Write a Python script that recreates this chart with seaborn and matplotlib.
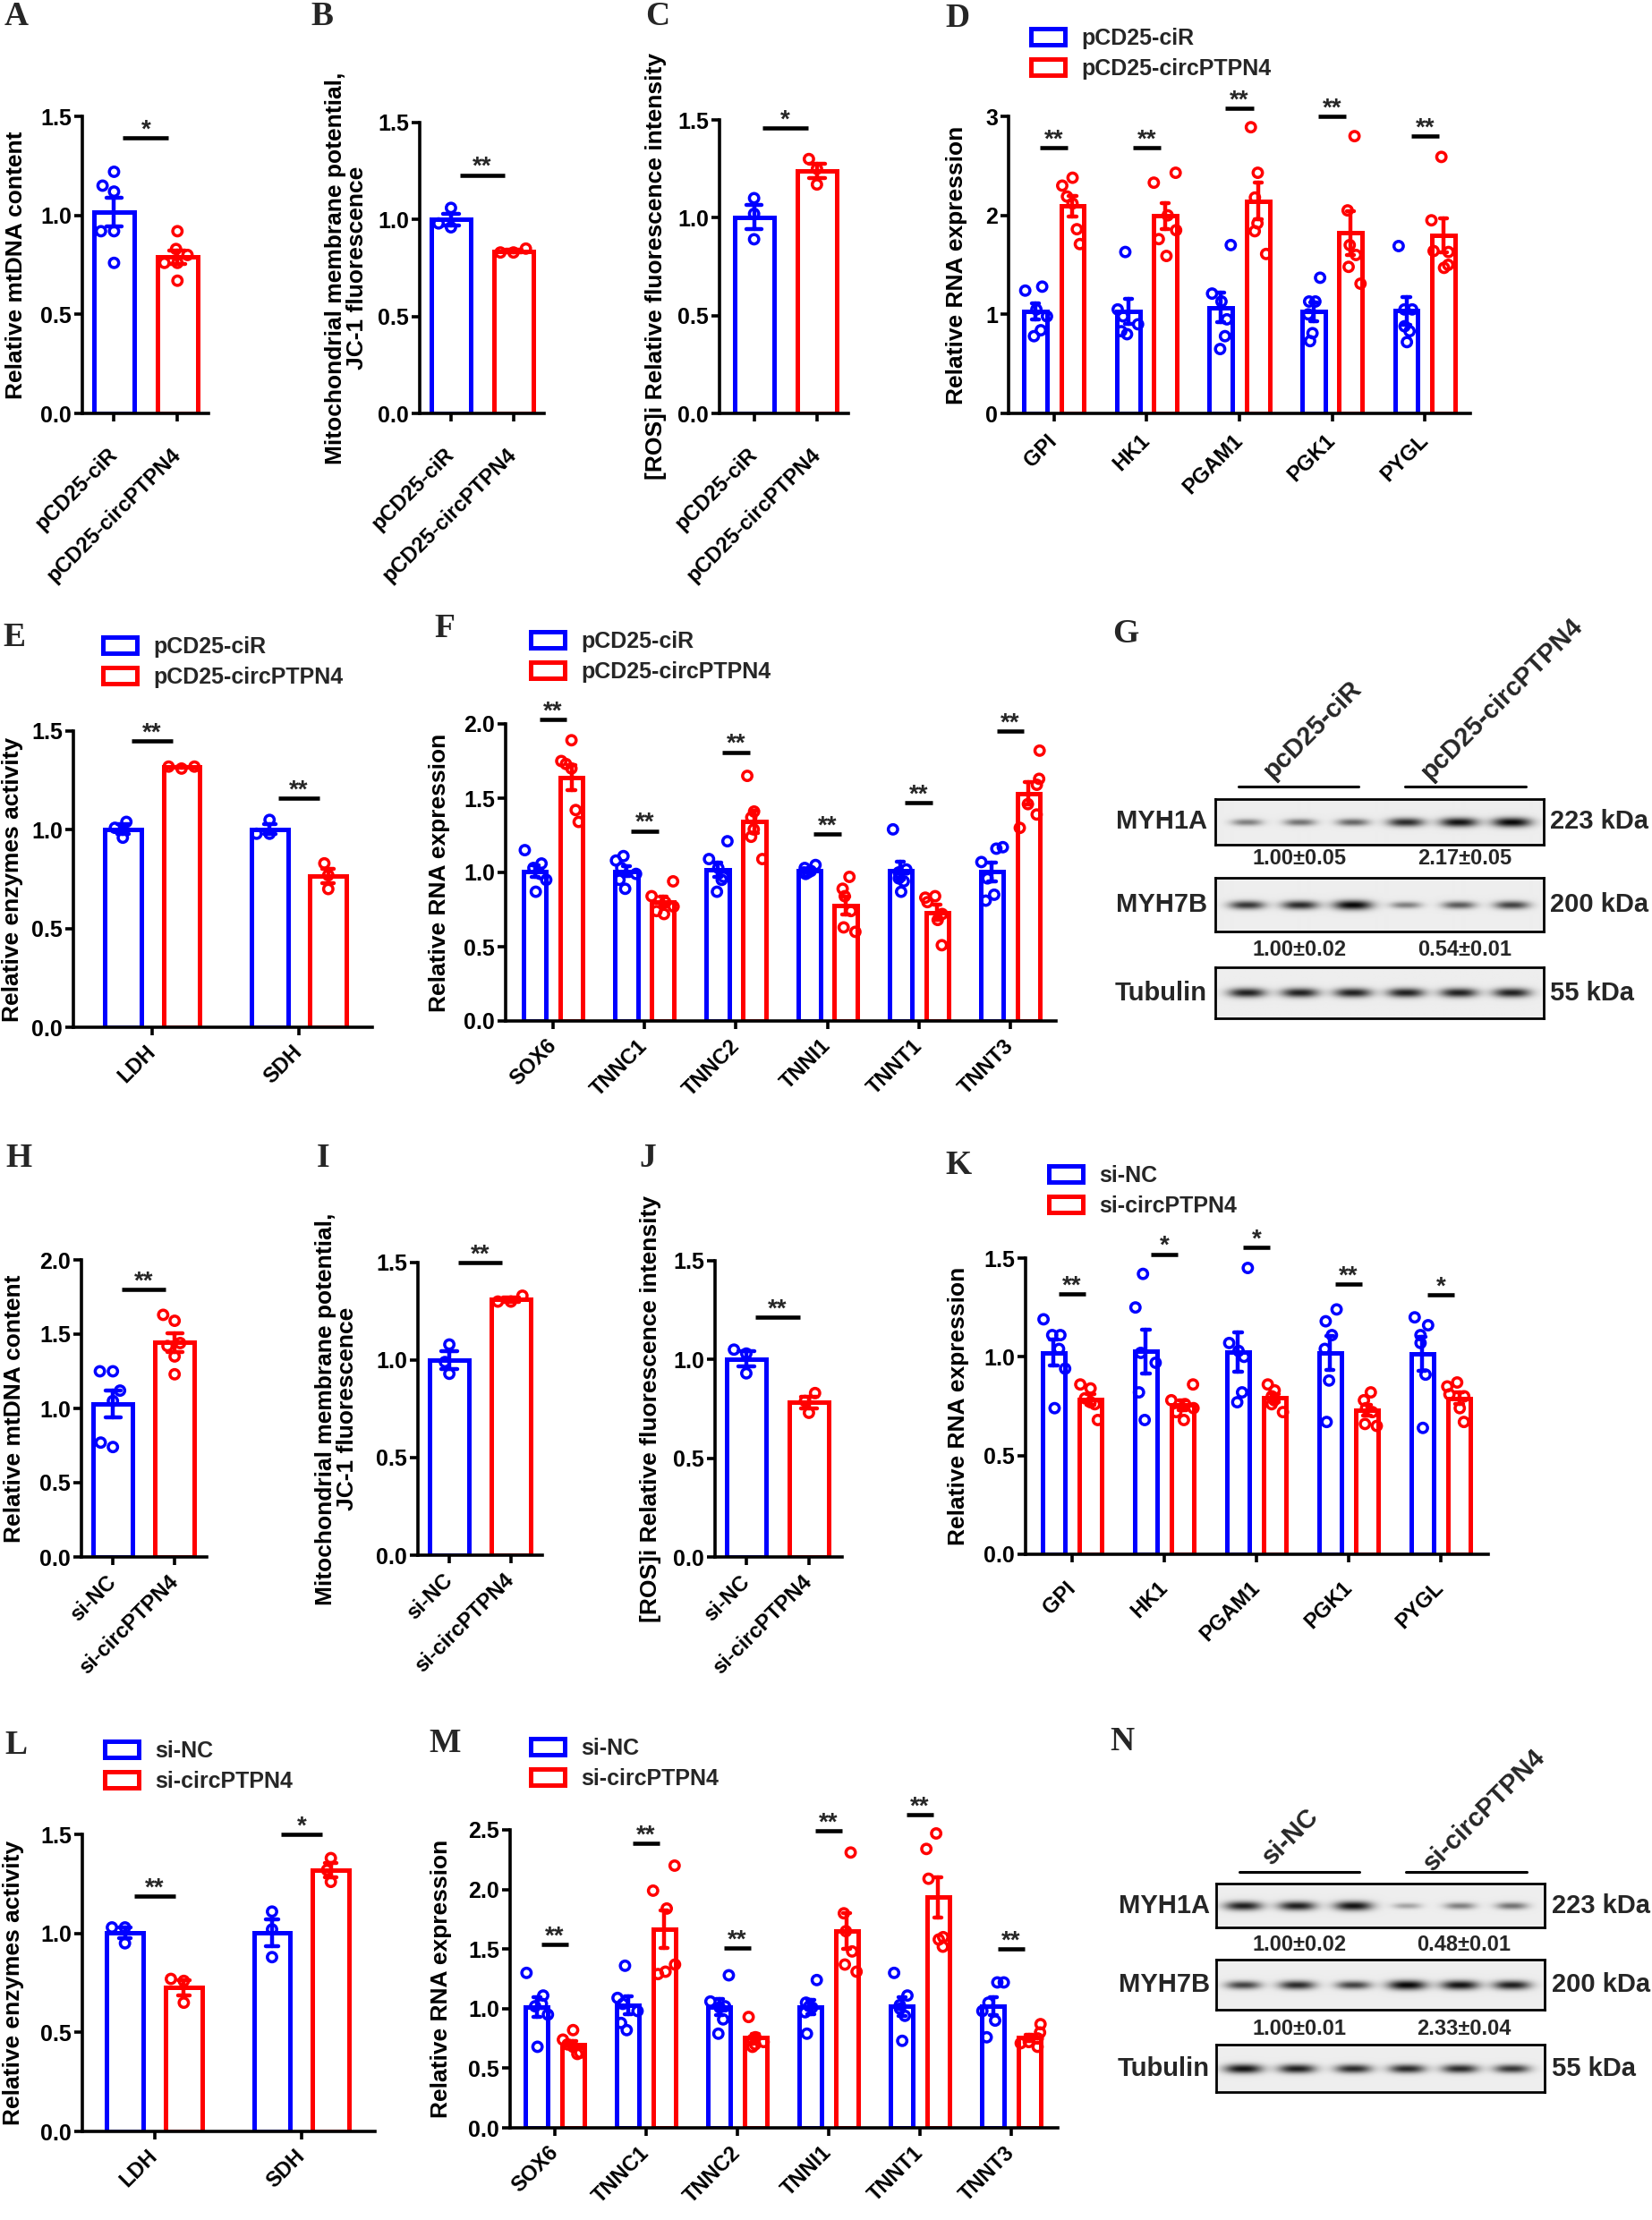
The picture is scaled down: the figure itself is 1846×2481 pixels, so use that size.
import numpy as np
import pandas as pd
import matplotlib
matplotlib.use("Agg")
import matplotlib.pyplot as plt
import seaborn as sns
from matplotlib.patches import Patch
from matplotlib.ticker import FormatStrFormatter
import warnings
warnings.filterwarnings("ignore")

# ---------------- data ----------------
grp_oe = ["pCD25-ciR", "pCD25-circPTPN4"]
grp_si = ["si-NC", "si-circPTPN4"]
glyco_genes = ["GPI", "HK1", "PGAM1", "PGK1", "PYGL"]
enzymes = ["LDH", "SDH"]
fiber_genes = ["SOX6", "TNNC1", "TNNC2", "TNNI1", "TNNT1", "TNNT3"]

A_ctrl = [1.22, 1.15, 1.12, 0.92, 0.92, 0.76]
A_trt = [0.92, 0.83, 0.80, 0.76, 0.76, 0.67]
B_ctrl = [1.06, 0.98, 0.96]
B_trt = [0.85, 0.83, 0.83]
C_ctrl = [1.10, 1.02, 0.89]
C_trt = [1.30, 1.25, 1.17]

D_ctrl = [[1.24, 1.28, 0.78, 0.84, 0.98, 1.05],
          [1.63, 1.05, 0.98, 0.90, 0.83, 0.80],
          [1.70, 1.21, 1.13, 0.95, 0.78, 0.65],
          [1.37, 1.13, 1.13, 1.00, 0.81, 0.73],
          [1.69, 1.05, 1.05, 0.88, 0.83, 0.72]]
D_trt = [[2.38, 2.30, 2.19, 2.12, 1.86, 1.71],
         [2.43, 2.33, 2.00, 1.85, 1.76, 1.59],
         [2.89, 2.43, 2.18, 1.92, 1.84, 1.61],
         [2.80, 2.05, 1.70, 1.60, 1.48, 1.31],
         [2.59, 1.95, 1.64, 1.63, 1.47, 1.50]]

E_ctrl = [[1.04, 0.96, 1.01], [1.05, 0.98, 0.98]]
E_trt = [[1.32, 1.31, 1.32], [0.83, 0.77, 0.70]]

F_ctrl = [[1.15, 1.06, 1.03, 0.99, 0.95, 0.87],
          [1.11, 1.08, 1.03, 0.99, 0.95, 0.89],
          [1.21, 1.09, 1.03, 0.97, 0.95, 0.87],
          [1.05, 1.03, 1.01, 1.00, 1.00, 0.99],
          [1.29, 1.02, 1.00, 0.96, 0.94, 0.87],
          [1.17, 1.16, 1.07, 0.96, 0.85, 0.81]]
F_trt = [[1.89, 1.75, 1.73, 1.70, 1.42, 1.34],
         [0.94, 0.84, 0.80, 0.77, 0.74, 0.72],
         [1.65, 1.41, 1.37, 1.29, 1.24, 1.09],
         [0.97, 0.89, 0.84, 0.74, 0.63, 0.60],
         [0.84, 0.83, 0.80, 0.72, 0.68, 0.51],
         [1.82, 1.63, 1.59, 1.46, 1.39, 1.30]]

H_ctrl = [1.25, 1.25, 1.12, 1.05, 0.74, 0.77]
H_trt = [1.63, 1.59, 1.44, 1.42, 1.35, 1.23]
I_ctrl = [1.08, 0.99, 0.93]
I_trt = [1.33, 1.30, 1.30]
J_ctrl = [1.05, 1.03, 0.93]
J_trt = [0.83, 0.79, 0.73]

K_ctrl = [[1.19, 1.11, 1.11, 1.04, 0.94, 0.74],
          [1.42, 1.25, 1.02, 0.97, 0.82, 0.68],
          [1.45, 1.07, 1.03, 1.00, 0.82, 0.77],
          [1.24, 1.18, 1.11, 1.04, 0.88, 0.67],
          [1.20, 1.16, 1.11, 1.07, 0.91, 0.64]]
K_trt = [[0.84, 0.86, 0.79, 0.77, 0.76, 0.68],
         [0.86, 0.78, 0.76, 0.74, 0.72, 0.68],
         [0.86, 0.83, 0.80, 0.78, 0.76, 0.72],
         [0.82, 0.78, 0.74, 0.72, 0.66, 0.65],
         [0.87, 0.85, 0.81, 0.80, 0.74, 0.67]]

L_ctrl = [[1.03, 1.03, 0.95], [1.11, 1.02, 0.88]]
L_trt = [[0.77, 0.76, 0.65], [1.38, 1.32, 1.26]]

M_ctrl = [[1.30, 1.11, 1.02, 1.04, 0.95, 0.68],
          [1.36, 1.09, 1.04, 0.98, 0.88, 0.82],
          [1.28, 1.06, 1.01, 1.02, 0.91, 0.79],
          [1.24, 1.05, 1.01, 0.97, 1.02, 0.79],
          [1.30, 1.11, 1.03, 1.00, 0.94, 0.73],
          [1.22, 1.22, 0.98, 1.05, 0.90, 0.76]]
M_trt = [[0.82, 0.74, 0.70, 0.68, 0.62, 0.63],
         [2.20, 1.99, 1.84, 1.37, 1.29, 1.31],
         [0.93, 0.76, 0.74, 0.70, 0.68, 0.72],
         [2.31, 1.80, 1.65, 1.48, 1.37, 1.31],
         [2.47, 2.34, 2.09, 1.60, 1.58, 1.52],
         [0.87, 0.80, 0.75, 0.72, 0.68, 0.71]]

# significance bars (height, label)
A_sig = (1.39, "*")
B_sig = (1.23, "**")
C_sig = (1.46, "*")
D_sig_y = [2.68, 2.68, 3.08, 3.00, 2.80]
D_sig_txt = ["**", "**", "**", "**", "**"]
E_sig_y = [1.45, 1.16]
E_sig_txt = ["**", "**"]
F_sig_y = [2.03, 1.28, 1.81, 1.26, 1.47, 1.95]
F_sig_txt = ["**", "**", "**", "**", "**", "**"]
H_sig = (1.80, "**")
I_sig = (1.50, "**")
J_sig = (1.215, "**")
K_sig_y = [1.32, 1.52, 1.555, 1.37, 1.316]
K_sig_txt = ["**", "*", "*", "**", "*"]
L_sig_y = [1.19, 1.50]
L_sig_txt = ["**", "*"]
M_sig_y = [1.54, 2.39, 1.51, 2.49, 2.63, 1.50]
M_sig_txt = ["**", "**", "**", "**", "**", "**"]

# western blots
blot_rows = ["MYH1A", "MYH7B", "Tubulin"]
blot_kda = ["223 kDa", "200 kDa", "55 kDa"]
G_groups = ["pcD25-ciR", "pcD25-circPTPN4"]
N_groups = ["si-NC", "si-circPTPN4"]
G_quant = [["1.00\u00b10.05", "2.17\u00b10.05"], ["1.00\u00b10.02", "0.54\u00b10.01"]]
N_quant = [["1.00\u00b10.02", "0.48\u00b10.01"], ["1.00\u00b10.01", "2.33\u00b10.04"]]
G_band = [[0.45, 0.50, 0.55, 0.80, 0.90, 0.95],
          [0.75, 0.80, 0.95, 0.45, 0.60, 0.70],
          [0.85, 0.85, 0.85, 0.85, 0.85, 0.85]]
N_band = [[0.85, 0.85, 0.90, 0.30, 0.45, 0.50],
          [0.70, 0.80, 0.70, 0.95, 0.90, 0.85],
          [0.90, 0.85, 0.80, 0.80, 0.80, 0.75]]
G_lanes = [35, 94, 153, 212, 271, 330]
N_lanes = [30, 90, 153, 213, 272, 330]

# ---------------- style ----------------
sns.set_style("ticks")
plt.rcParams["font.family"] = ["Liberation Sans", "DejaVu Sans"]
plt.rcParams["font.weight"] = "bold"
plt.rcParams["axes.labelweight"] = "bold"

BLUE, RED = "#0000FF", "#FF0000"
MS, MLW = 7.5, 2.5
W, H, DPI = 1846, 2481, 100
fig = plt.figure(figsize=(W / DPI, H / DPI), dpi=DPI)
fig.patch.set_facecolor("white")

ov = fig.add_axes([0, 0, 1, 1], zorder=-5)
ov.set_xlim(0, W)
ov.set_ylim(H, 0)
ov.axis("off")


def make_ax(xl, xr, y0, yt, top, ymax):
    ppu = (y0 - yt) / top
    ytop_px = y0 - ppu * ymax
    return fig.add_axes([xl / W, 1 - y0 / H, (xr - xl) / W, (y0 - ytop_px) / H])


def hollow(ax):
    for c in ax.collections:
        fc = c.get_facecolors()
        if len(fc):
            c.set_edgecolors(fc.copy())
            c.set_facecolors("none")


def finish(ax, top, step, fmt, xlim, ymax, ylabel, lab_x, y0, yt, xpad=11):
    ax.set_xlim(*xlim)
    ax.set_ylim(0, ymax)
    ax.set_yticks(np.arange(0, top + 1e-9, step))
    ax.yaxis.set_major_formatter(FormatStrFormatter(fmt))
    ax.spines["top"].set_visible(False)
    ax.spines["right"].set_visible(False)
    ax.spines["left"].set_bounds(0, top)
    for s in ["left", "bottom"]:
        ax.spines[s].set_linewidth(2.6)
        ax.spines[s].set_color("black")
    ax.tick_params(axis="both", length=6.5, width=2.6, color="black",
                   labelsize=18, direction="out", labelcolor="black")
    ax.tick_params(axis="y", pad=2)
    ax.tick_params(axis="x", pad=xpad, labelsize=17)
    for lab in ax.get_xticklabels():
        lab.set_rotation(45)
        lab.set_ha("right")
        lab.set_va("center")
        lab.set_rotation_mode("anchor")
    ax.set_xlabel("")
    ax.set_ylabel(ylabel, fontsize=19, fontweight="bold", linespacing=0.95, color="black")
    ax.yaxis.label.set_va("center")
    ax.yaxis.set_label_coords(lab_x / W, 1 - (y0 + yt) / 2 / H, transform=fig.transFigure)
    ax.patch.set_alpha(0)


def sig(ax, x0, x1, y, txt):
    ax.plot([x0, x1], [y, y], color="black", lw=3.3, solid_capstyle="butt",
            clip_on=False, zorder=5)
    ax.text((x0 + x1) / 2, y + 0.004 * ax.get_ylim()[1], txt, ha="center",
            va="baseline", fontsize=20, fontweight="bold", clip_on=False)


def single(ax, groups, ctrl, trt):
    df = pd.DataFrame({"grp": [groups[0]] * len(ctrl) + [groups[1]] * len(trt),
                       "val": list(ctrl) + list(trt)})
    sns.barplot(data=df, x="grp", y="val", hue="grp", order=groups, hue_order=groups,
                palette=[BLUE, RED], fill=False, width=0.63, errorbar="se",
                capsize=0.25, linewidth=3.6, err_kws={"linewidth": 3.2},
                legend=False, ax=ax)
    sns.swarmplot(data=df, x="grp", y="val", hue="grp", order=groups, hue_order=groups,
                  palette=[BLUE, RED], size=MS, linewidth=MLW, legend=False, ax=ax)
    hollow(ax)


def grouped(ax, cats, groups, ctrl, trt, swarm):
    rows = []
    for c, vc, vt in zip(cats, ctrl, trt):
        rows += [(c, groups[0], v) for v in vc]
        rows += [(c, groups[1], v) for v in vt]
    df = pd.DataFrame(rows, columns=["cat", "grp", "val"])
    sns.barplot(data=df, x="cat", y="val", hue="grp", order=cats, hue_order=groups,
                palette=[BLUE, RED], fill=False, width=0.8, gap=0.38, errorbar="se",
                capsize=0.16, linewidth=3.6, err_kws={"linewidth": 3.2},
                legend=False, ax=ax)
    if swarm:
        sns.swarmplot(data=df, x="cat", y="val", hue="grp", order=cats, hue_order=groups,
                      palette=[BLUE, RED], dodge=True, size=MS, linewidth=MLW,
                      legend=False, ax=ax)
    else:
        np.random.seed(7)
        sns.stripplot(data=df, x="cat", y="val", hue="grp", order=cats, hue_order=groups,
                      palette=[BLUE, RED], dodge=True, jitter=0.26, size=MS, linewidth=MLW,
                      legend=False, ax=ax)
    hollow(ax)


def legend(ax, labels, x_px, y_px):
    handles = [Patch(facecolor="none", edgecolor=c, linewidth=3.6) for c in (BLUE, RED)]
    ax.legend(handles, labels, loc="upper left",
              bbox_to_anchor=(x_px / W, 1 - y_px / H), bbox_transform=fig.transFigure,
              frameon=False, handlelength=1.5, handleheight=0.75, handletextpad=0.75,
              labelspacing=0.4, borderpad=0, borderaxespad=0,
              prop={"size": 18, "weight": "bold"})


def letter(x, y, s):
    ov.text(x, y, s, fontfamily=["Liberation Serif", "DejaVu Serif"], fontweight="bold",
            fontsize=27, ha="left", va="center")


# ---------------- two-group panels ----------------
single_specs = [
    # ctrl, trt, groups, xl, xr, y0, yt, top, step, xlim, ymax, ylabel, sig, label x, xpad
    (A_ctrl, A_trt, grp_oe, 92, 233, 462, 130, 1.5, 0.5, (-0.5, 1.49), 1.62,
     "Relative mtDNA content", A_sig, 18, 24),
    (B_ctrl, B_trt, grp_oe, 469, 608, 462, 137, 1.5, 0.5, (-0.5, 1.49), 1.62,
     "Mitochondrial membrane potential,\nJC-1 fluorescence", B_sig, 387, 24),
    (C_ctrl, C_trt, grp_oe, 804, 948, 462, 134, 1.5, 0.5, (-0.55, 1.5), 1.62,
     "[ROS]i Relative fluorescence intensity", C_sig, 733, 24),
    (H_ctrl, H_trt, grp_si, 91, 231, 1740, 1408, 2.0, 0.5, (-0.51, 1.52), 2.15,
     "Relative mtDNA content", H_sig, 16, 11),
    (I_ctrl, I_trt, grp_si, 467, 606, 1738, 1411, 1.5, 0.5, (-0.51, 1.51), 1.62,
     "Mitochondrial membrane potential,\nJC-1 fluorescence", I_sig, 376, 11),
    (J_ctrl, J_trt, grp_si, 799, 941, 1740, 1409, 1.5, 0.5, (-0.5, 1.53), 1.62,
     "[ROS]i Relative fluorescence intensity", J_sig, 727, 11),
]
for (ctrl, trt, groups, xl, xr, y0, yt, top, step, xlim, ymax, ylab, sg, lx, xp) in single_specs:
    ax = make_ax(xl, xr, y0, yt, top, ymax)
    single(ax, groups, ctrl, trt)
    finish(ax, top, step, "%.1f", xlim, ymax, ylab, lx, y0, yt, xp)
    sig(ax, 0.14, 0.86, sg[0], sg[1])

# ---------------- grouped panels ----------------
grouped_specs = [
    # cats, groups, ctrl, trt, xl, xr, y0, yt, top, step, fmt, xlim, ymax, sig_y, sig_txt,
    # half, legend xy, ylabel, label x, swarm, xpad
    (glyco_genes, grp_oe, D_ctrl, D_trt, 1127, 1643, 462, 130, 3.0, 1.0, "%d",
     (-0.49, 4.49), 3.3, D_sig_y, D_sig_txt, 0.15, (1152, 31),
     "Relative RNA expression", 1069, False, 13),
    (enzymes, grp_oe, E_ctrl, E_trt, 82, 416, 1148, 817, 1.5, 0.5, "%.1f",
     (-0.537, 1.5), 1.62, E_sig_y, E_sig_txt, 0.14, (115, 711),
     "Relative enzymes activity", 14, True, 11),
    (fiber_genes, grp_oe, F_ctrl, F_trt, 565, 1180, 1141, 809, 2.0, 0.5, "%.1f",
     (-0.52, 5.5), 2.15, F_sig_y, F_sig_txt, 0.15, (593, 705),
     "Relative RNA expression", 491, False, 11),
    (glyco_genes, grp_si, K_ctrl, K_trt, 1146, 1663, 1737, 1406, 1.5, 0.5, "%.1f",
     (-0.505, 4.515), 1.66, K_sig_y, K_sig_txt, 0.15, (1172, 1302),
     "Relative RNA expression", 1071, False, 18),
    (enzymes, grp_si, L_ctrl, L_trt, 92, 419, 2382, 2050, 1.5, 0.5, "%.1f",
     (-0.49, 1.5), 1.62, L_sig_y, L_sig_txt, 0.14, (117, 1945),
     "Relative enzymes activity", 15, True, 11),
    (fiber_genes, grp_si, M_ctrl, M_trt, 570, 1182, 2378, 2045, 2.5, 0.5, "%.1f",
     (-0.49, 5.51), 2.8, M_sig_y, M_sig_txt, 0.15, (593, 1942),
     "Relative RNA expression", 493, False, 11),
]
for spec in grouped_specs:
    (cats, groups, ctrl, trt, xl, xr, y0, yt, top, step, fmt, xlim, ymax,
     sy, st, half, lxy, ylab, lx, swarm, xp) = spec
    ax = make_ax(xl, xr, y0, yt, top, ymax)
    grouped(ax, cats, groups, ctrl, trt, swarm)
    finish(ax, top, step, fmt, xlim, ymax, ylab, lx, y0, yt, xp)
    for i, (yv, tx) in enumerate(zip(sy, st)):
        sig(ax, i - half, i + half, yv, tx)
    legend(ax, groups, lxy[0], lxy[1])

# ---------------- western blots ----------------
def blot(bx0, bx1, boxes, lanes, bands, quant, quant_y, quant_x, line_y, line_xs,
         groups, group_xy, name_x, kda_x):
    for (yb0, yb1), inten, name, kda in zip(boxes, bands, blot_rows, blot_kda):
        h, w = yb1 - yb0, bx1 - bx0
        yy, xx = np.mgrid[0:h, 0:w]
        img = np.full((h, w), 0.93)
        for cx, I in zip(lanes, inten):
            sx = 13 + 9 * I
            syy = 2.5 + 3.0 * I
            img -= 0.95 * I * np.exp(-(np.abs(xx - cx) / sx) ** 2.6 - ((yy - h / 2) / syy) ** 2)
        bax = fig.add_axes([bx0 / W, 1 - yb1 / H, w / W, h / H])
        bax.imshow(np.clip(img, 0, 1), cmap="gray", vmin=0, vmax=1, aspect="auto",
                   interpolation="bilinear")
        bax.set_xticks([])
        bax.set_yticks([])
        for s in bax.spines.values():
            s.set_linewidth(2.0)
            s.set_color("black")
        yc = (yb0 + yb1) / 2
        ov.text(name_x, yc, name, ha="right", va="center", fontsize=21, fontweight="bold")
        ov.text(kda_x, yc, kda, ha="left", va="center", fontsize=21, fontweight="bold")
    for row, yq in zip(quant, quant_y):
        for s, xq in zip(row, quant_x):
            ov.text(xq, yq, s, ha="center", va="center", fontsize=17, fontweight="bold")
    for (x0, x1) in line_xs:
        ov.plot([x0, x1], [line_y, line_y], color="black", lw=2.2)
    for g, (gx, gy) in zip(groups, group_xy):
        ov.text(gx, gy, g, rotation=45, ha="center", va="center", fontsize=21,
                fontweight="bold")


blot(1358, 1725, [(893, 944), (981, 1041), (1081, 1138)], G_lanes, G_band, G_quant,
     [960, 1062], [1452, 1637], 879, [(1384, 1518), (1570, 1705)], G_groups,
     [(1467, 816), (1678, 781)], 1349, 1732)
blot(1359, 1726, [(2105, 2154), (2190, 2246), (2285, 2338)], N_lanes, N_band, N_quant,
     [2174, 2267], [1452, 1636], 2092, [(1385, 1519), (1571, 1706)], N_groups,
     [(1442, 2052), (1659, 2023)], 1352, 1734)

# ---------------- panel letters ----------------
for s, x, y in [("A", 5, 18), ("B", 347, 18), ("C", 721, 18), ("D", 1056, 20),
                ("E", 3, 712), ("F", 485, 702), ("G", 1243, 708),
                ("H", 6, 1294), ("I", 354, 1294), ("J", 714, 1294), ("K", 1056, 1302),
                ("L", 5, 1950), ("M", 479, 1948), ("N", 1240, 1946)]:
    letter(x, y, s)

fig.savefig("out.png", dpi=DPI, facecolor="white")
